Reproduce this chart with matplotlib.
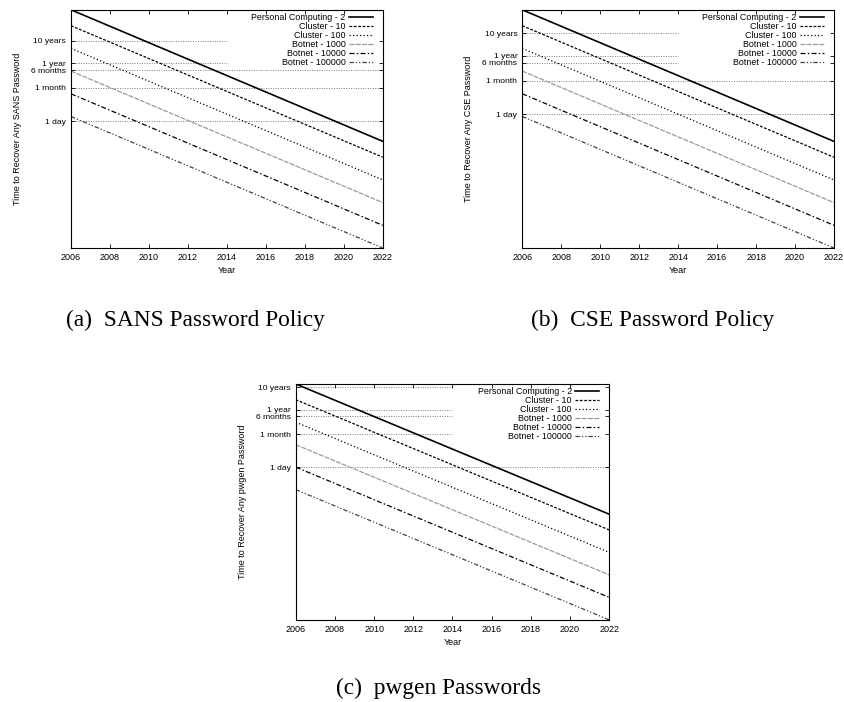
import matplotlib
matplotlib.use("Agg")
import matplotlib.pyplot as plt

plt.rcParams["font.family"] = "Liberation Sans"
plt.rcParams["font.size"] = 6.5
plt.rcParams["axes.linewidth"] = 0.8

years = [2006, 2022]
labels = ["Personal Computing - 2", "Cluster - 10", "Cluster - 100",
          "Botnet - 1000", "Botnet - 10000", "Botnet - 100000"]

# seconds needed to recover any password, in 2006 and in 2022
sans_times = [[7.1e9, 1.15e4], [1.42e9, 2.3e3], [1.42e8, 230],
              [1.42e7, 23], [1.42e6, 2.3], [1.42e5, 0.23]]
cse_times = [[3.4e9, 5.4e3], [6.8e8, 1.08e3], [6.8e7, 108],
             [6.8e6, 10.8], [6.8e5, 1.08], [6.8e4, 0.108]]
pwgen_times = [[4.4e8, 710], [8.8e7, 142], [8.8e6, 14.2],
               [8.8e5, 1.42], [8.8e4, 0.142], [8.8e3, 0.0142]]

ref_labels = ["1 day", "1 month", "6 months", "1 year", "10 years"]
ref_seconds = [86400, 2592000, 15768000, 31536000, 315360000]
# year where each guide line stops (hidden behind the key)
sans_ref_end = [2022, 2022, 2022, 2014, 2014]
cse_ref_end = [2022, 2022, 2014, 2014, 2014]
pwgen_ref_end = [2022, 2014, 2014, 2014, 2014]

styles = [
    dict(color="black", lw=1.2, ls="-"),
    dict(color="black", lw=0.9, ls=(0, (2.2, 1.3))),
    dict(color="black", lw=0.9, ls=(0, (1, 1.8))),
    dict(color="#9a9a9a", lw=0.9, ls=(0, (4, 1))),
    dict(color="black", lw=0.9, ls=(0, (4, 1.8, 1.2, 1.8))),
    dict(color="#404040", lw=0.9, ls=(0, (3.5, 1.6, 1, 1.6, 1, 1.6))),
]


def draw_panel(ax, times, ref_end, ylabel):
    for r, end in zip(ref_seconds, ref_end):
        ax.plot([years[0], end], [r, r], color="#7a7a7a", lw=0.7,
                ls=(0, (1, 1.5)), zorder=1)
    for t, lab, st in zip(times, labels, styles):
        ax.plot(years, t, label=lab, zorder=2, **st)
    ax.set_yscale("log")
    ax.set_xlim(years[0], years[-1])
    ax.set_ylim(min(t[-1] for t in times), max(t[0] for t in times))
    ax.set_yticks(ref_seconds, ref_labels)
    ax.minorticks_off()
    ax.set_xticks(range(2006, 2023, 2))
    ax.tick_params(direction="in", top=True, right=True, length=3,
                   width=0.6, pad=3.5)
    ax.tick_params(axis="y", labelsize=6.1)
    ax.set_xlabel("Year", labelpad=3)
    ax.set_ylabel(ylabel, labelpad=6.5)
    ax.legend(loc="upper right", bbox_to_anchor=(0.977, 0.998),
              frameon=False, markerfirst=False, fontsize=6.4,
              handlelength=2.7, handletextpad=0.4, labelspacing=0.0,
              borderaxespad=0, borderpad=0.3)


fig = plt.figure(figsize=(8.45, 7.02), dpi=100)
ax1 = fig.add_axes([0.084, 0.6467, 0.369, 0.3393])
ax2 = fig.add_axes([0.618, 0.6467, 0.369, 0.3393])
ax3 = fig.add_axes([0.350, 0.117, 0.371, 0.336])

draw_panel(ax1, sans_times, sans_ref_end, "Time to Recover Any SANS Password")
draw_panel(ax2, cse_times, cse_ref_end, "Time to Recover Any CSE Password")
draw_panel(ax3, pwgen_times, pwgen_ref_end, "Time to Recover Any pwgen Password")

cap = dict(family="Liberation Serif", fontsize=16.8, ha="center", va="center")
fig.text(195 / 845, 1 - 320 / 702, "(a)  SANS Password Policy", **cap)
fig.text(653 / 845, 1 - 320 / 702, "(b)  CSE Password Policy", **cap)
fig.text(439 / 845, 1 - 688 / 702, "(c)  pwgen Passwords", **cap)

fig.savefig("out.png", dpi=100)
